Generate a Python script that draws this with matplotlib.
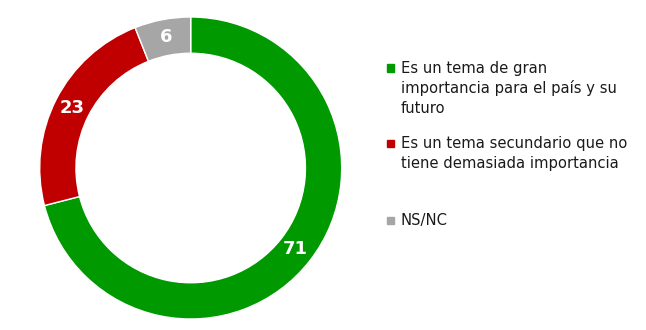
import numpy as np
import matplotlib.pyplot as plt
from matplotlib.patches import Rectangle

# Data
labels = ['Es un tema de gran importancia para el país y su futuro',
          'Es un tema secundario que no tiene demasiada importancia',
          'NS/NC']
values = [71, 23, 6]
colors = ['#009900', '#C00000', '#A6A6A6']
legend_lines = [['Es un tema de gran', 'importancia para el país y su', 'futuro'],
                ['Es un tema secundario que no', 'tiene demasiada importancia'],
                ['NS/NC']]

W, H = 646, 330
fig = plt.figure(figsize=(W / 100, H / 100), dpi=100)

# donut placed in pixel terms
cx, cy, r = 190.7, 168, 151
ax = fig.add_axes([(cx - r) / W, (H - cy - r) / H, 2 * r / W, 2 * r / H])
wedges, _ = ax.pie(values, colors=colors, startangle=90, counterclock=False,
                   radius=1, wedgeprops=dict(width=0.24, edgecolor='white', linewidth=1))
ax.set_xlim(-1, 1)
ax.set_ylim(-1, 1)
ax.set_aspect('equal')
ax.axis('off')

# value labels in the middle of the ring
for w, v in zip(wedges, values):
    ang = np.deg2rad((w.theta1 + w.theta2) / 2)
    ax.text(0.88 * np.cos(ang), 0.88 * np.sin(ang), str(v), color='white',
            fontsize=13, fontweight='bold', ha='center', va='center')

# legend drawn by hand
baselines = [[73, 93, 113], [148, 168], [225]]
for col, lines, bls in zip(colors, legend_lines, baselines):
    my = bls[0] - 5
    fig.patches.append(Rectangle((387 / W, 1 - (my + 3.5) / H), 7 / W, 7 / H,
                                 transform=fig.transFigure, color=col))
    for txt, b in zip(lines, bls):
        fig.text(401 / W, 1 - b / H, txt, fontsize=10.6, color='#1a1a1a',
                 ha='left', va='baseline')

fig.savefig('out.png', dpi=100)
